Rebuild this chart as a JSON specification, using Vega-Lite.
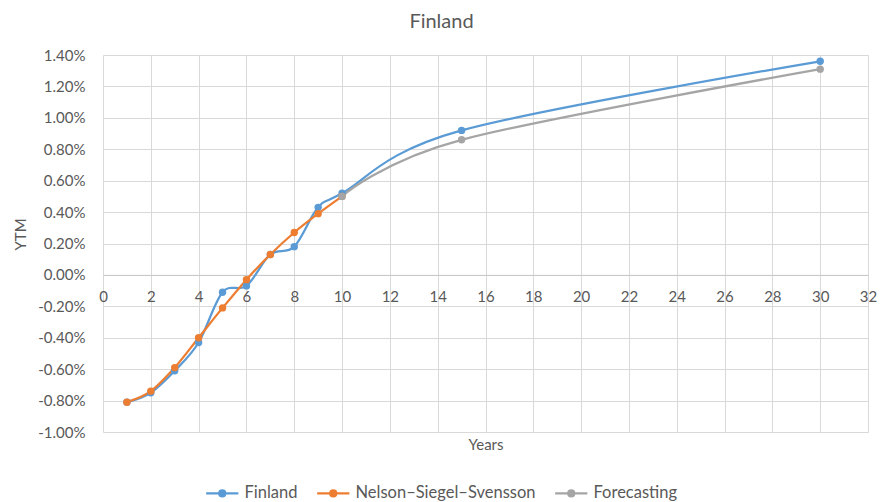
{
  "$schema": "https://vega.github.io/schema/vega-lite/v6.json",
  "width": 765,
  "height": 377,
  "autosize": {"type": "none"},
  "padding": {"left": 103, "top": 55, "right": 14, "bottom": 70},
  "background": "white",
  "title": {
    "text": "Finland",
    "font": "Lato",
    "fontSize": 20,
    "fontWeight": "normal",
    "color": "#595959",
    "anchor": "middle",
    "dx": -44,
    "offset": 16
  },
  "config": {
    "view": {"stroke": null},
    "font": "Lato"
  },
  "data": {
    "values": [
      {"series": "Finland", "years": 1, "ytm": -0.0081},
      {"series": "Finland", "years": 2, "ytm": -0.0075},
      {"series": "Finland", "years": 3, "ytm": -0.0061},
      {"series": "Finland", "years": 4, "ytm": -0.0043},
      {"series": "Finland", "years": 5, "ytm": -0.0011},
      {"series": "Finland", "years": 6, "ytm": -0.0007},
      {"series": "Finland", "years": 7, "ytm": 0.0013},
      {"series": "Finland", "years": 8, "ytm": 0.0018},
      {"series": "Finland", "years": 9, "ytm": 0.0043},
      {"series": "Finland", "years": 10, "ytm": 0.0052},
      {"series": "Finland", "years": 15, "ytm": 0.0092},
      {"series": "Finland", "years": 30, "ytm": 0.0136},
      {"series": "Nelson–Siegel–Svensson", "years": 1, "ytm": -0.0081},
      {"series": "Nelson–Siegel–Svensson", "years": 2, "ytm": -0.0074},
      {"series": "Nelson–Siegel–Svensson", "years": 3, "ytm": -0.0059},
      {"series": "Nelson–Siegel–Svensson", "years": 4, "ytm": -0.0040},
      {"series": "Nelson–Siegel–Svensson", "years": 5, "ytm": -0.0021},
      {"series": "Nelson–Siegel–Svensson", "years": 6, "ytm": -0.0003},
      {"series": "Nelson–Siegel–Svensson", "years": 7, "ytm": 0.0013},
      {"series": "Nelson–Siegel–Svensson", "years": 8, "ytm": 0.0027},
      {"series": "Nelson–Siegel–Svensson", "years": 9, "ytm": 0.0039},
      {"series": "Nelson–Siegel–Svensson", "years": 10, "ytm": 0.0050},
      {"series": "Forecasting", "years": 10, "ytm": 0.0050},
      {"series": "Forecasting", "years": 15, "ytm": 0.0086},
      {"series": "Forecasting", "years": 30, "ytm": 0.0131}
    ]
  },
  "mark": {
    "type": "line",
    "interpolate": "cardinal",
    "tension": 0,
    "strokeWidth": 2.25,
    "point": {"filled": true, "size": 55, "opacity": 1}
  },
  "encoding": {
    "x": {
      "field": "years",
      "type": "quantitative",
      "scale": {"domain": [0, 32], "nice": false, "zero": false},
      "axis": {
        "title": "Years",
        "values": [0, 2, 4, 6, 8, 10, 12, 14, 16, 18, 20, 22, 24, 26, 28, 30, 32],
        "offset": -157.1,
        "labelFlush": false,
        "labelFont": "Lato",
        "labelFontSize": 15,
        "labelColor": "#595959",
        "labelPadding": 15,
        "ticks": false,
        "tickSize": 0,
        "domainColor": "#c8c8c8",
        "domainWidth": 1,
        "grid": true,
        "gridColor": "#d9d9d9",
        "gridWidth": 1,
        "titleFont": "Lato",
        "titleFontSize": 15,
        "titleFontWeight": "normal",
        "titleColor": "#595959",
        "titleY": 175,
        "titleBaseline": "alphabetic"
      }
    },
    "y": {
      "field": "ytm",
      "type": "quantitative",
      "scale": {"domain": [-0.01, 0.014], "nice": false, "zero": false},
      "axis": {
        "title": "YTM",
        "values": [-0.01, -0.008, -0.006, -0.004, -0.002, 0, 0.002, 0.004, 0.006, 0.008, 0.01, 0.012, 0.014],
        "labelExpr": "replace(format(datum.value, '.2%'), '\u2212', '-')",
        "labelFont": "Lato",
        "labelFontSize": 15,
        "labelColor": "#595959",
        "labelPadding": 18,
        "ticks": false,
        "tickSize": 0,
        "domain": false,
        "grid": true,
        "gridColor": "#d9d9d9",
        "gridWidth": 1,
        "titleFont": "Lato",
        "titleFontSize": 15,
        "titleFontWeight": "normal",
        "titleColor": "#595959",
        "titleAngle": 270,
        "titleX": -83,
        "titleY": 179,
        "titleAlign": "center",
        "titleBaseline": "middle"
      }
    },
    "color": {
      "field": "series",
      "type": "nominal",
      "scale": {
        "domain": ["Finland", "Nelson–Siegel–Svensson", "Forecasting"],
        "range": ["#5B9BD5", "#ED7D31", "#A5A5A5"]
      },
      "legend": {
        "title": null,
        "orient": "none",
        "direction": "horizontal",
        "legendX": 111,
        "legendY": 430,
        "padding": 0,
        "symbolType": "M-4.3,0L4.3,0M-0.8,0A0.8,0.8,0,1,0,0.8,0A0.8,0.8,0,1,0,-0.8,0Z",
        "symbolSize": 56,
        "symbolStrokeWidth": 2.25,
        "labelFont": "Lato",
        "labelFontSize": 16.5,
        "labelColor": "#595959",
        "labelOffset": 14,
        "labelLimit": 400,
        "columnPadding": 14,
        "encode": {
          "symbols": {
            "update": {
              "fill": {"scale": "color", "field": "value"},
              "stroke": {"scale": "color", "field": "value"},
              "strokeWidth": {"value": 2.25},
              "opacity": {"value": 1}
            }
          }
        }
      }
    }
  }
}
